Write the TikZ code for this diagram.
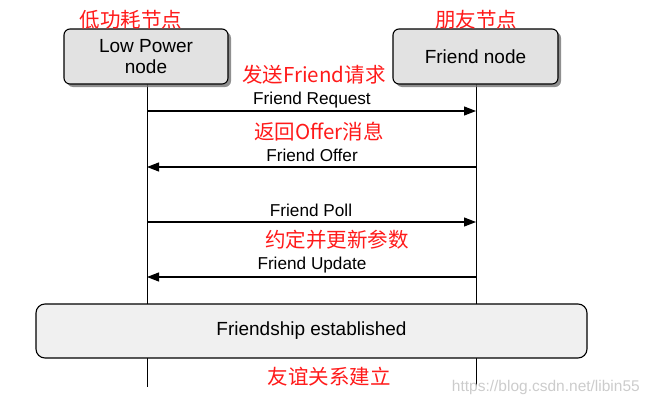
\documentclass[tikz,border=0pt]{standalone}
\usepackage{fontspec}
\setmainfont{Liberation Sans}
\newfontfamily\cjk{Noto Sans CJK SC}
\usetikzlibrary{shadows,arrows.meta}
\definecolor{boxgray}{HTML}{E2E2E2}
\definecolor{boxlight}{HTML}{F0F0F0}
\definecolor{cnred}{HTML}{FF1A1A}
\tikzset{
  actor/.style={draw=black, line width=1.1pt, fill=boxgray, rounded corners=6pt,
    minimum height=55pt, align=center, font=\fontsize{19}{21.5}\selectfont,
    drop shadow={shadow xshift=3pt, shadow yshift=-3pt, fill=black!55, opacity=0.8}},
  bar/.style={draw=black, line width=1.1pt, fill=boxlight, rounded corners=9pt,
    minimum width=551pt, minimum height=54pt, font=\fontsize{19}{21}\selectfont},
  life/.style={line width=0.9pt, black},
  msg/.style={line width=1.1pt, -{Triangle[length=12pt,width=9pt]}},
  lbl/.style={font=\fontsize{17.2}{19}\selectfont, inner sep=0pt},
  cn/.style={font=\cjk\fontsize{20.5}{23}\selectfont, text=cnred, inner sep=0pt},
  wm/.style={font=\fontsize{15.5}{18}\selectfont, text=black!20, inner sep=0pt}
}
\begin{document}
\begin{tikzpicture}[x=1pt,y=-1pt]
\useasboundingbox (0,0) rectangle (648,407);
% lifeline end points
\coordinate (lpend) at (147,387);
\coordinate (fnend) at (476,387);
% lifelines
\draw[life] (147,84) -- (lpend);
\draw[life] (476,84) -- (fnend);
% actors
\node[actor, minimum width=164pt] (lp) at (146,56.5) {Low Power\\node};
\node[actor, minimum width=165pt] (fn) at (475.5,56.5) {Friend node};
\node[cn] (lpcn) at (131,20) {低功耗节点};
\node[cn] (fncn) at (476,20) {朋友节点};
% message points
\coordinate (l1) at (147,111); \coordinate (r1) at (476,111);
\coordinate (l2) at (147,167); \coordinate (r2) at (476,167);
\coordinate (l3) at (147,222); \coordinate (r3) at (476,222);
\coordinate (l4) at (147,277); \coordinate (r4) at (476,277);
% messages
\draw[msg] (l1) -- (r1);
\draw[msg] (r2) -- (l2);
\draw[msg] (l3) -- (r3);
\draw[msg] (r4) -- (l4);
\node[lbl] (t1) at (312,100) {Friend Request};
\node[lbl] (t2) at (312,155) {Friend Offer};
\node[lbl] (t3) at (311,210) {Friend Poll};
\node[lbl] (t4) at (312,265) {Friend Update};
\node[cn] (c1) at (314,75) {发送Friend请求};
\node[cn] (c2) at (319,131.5) {返回Offer消息};
\node[cn] (c3) at (337,240) {约定并更新参数};
% established bar
\node[bar] (fe) at (311.5,331) {Friendship established};
\node[cn] (c4) at (329,377) {友谊关系建立};
\node[wm, anchor=east] (wmk) at (640,387) {https://blog.csdn.net/libin55};
\end{tikzpicture}
\end{document}
